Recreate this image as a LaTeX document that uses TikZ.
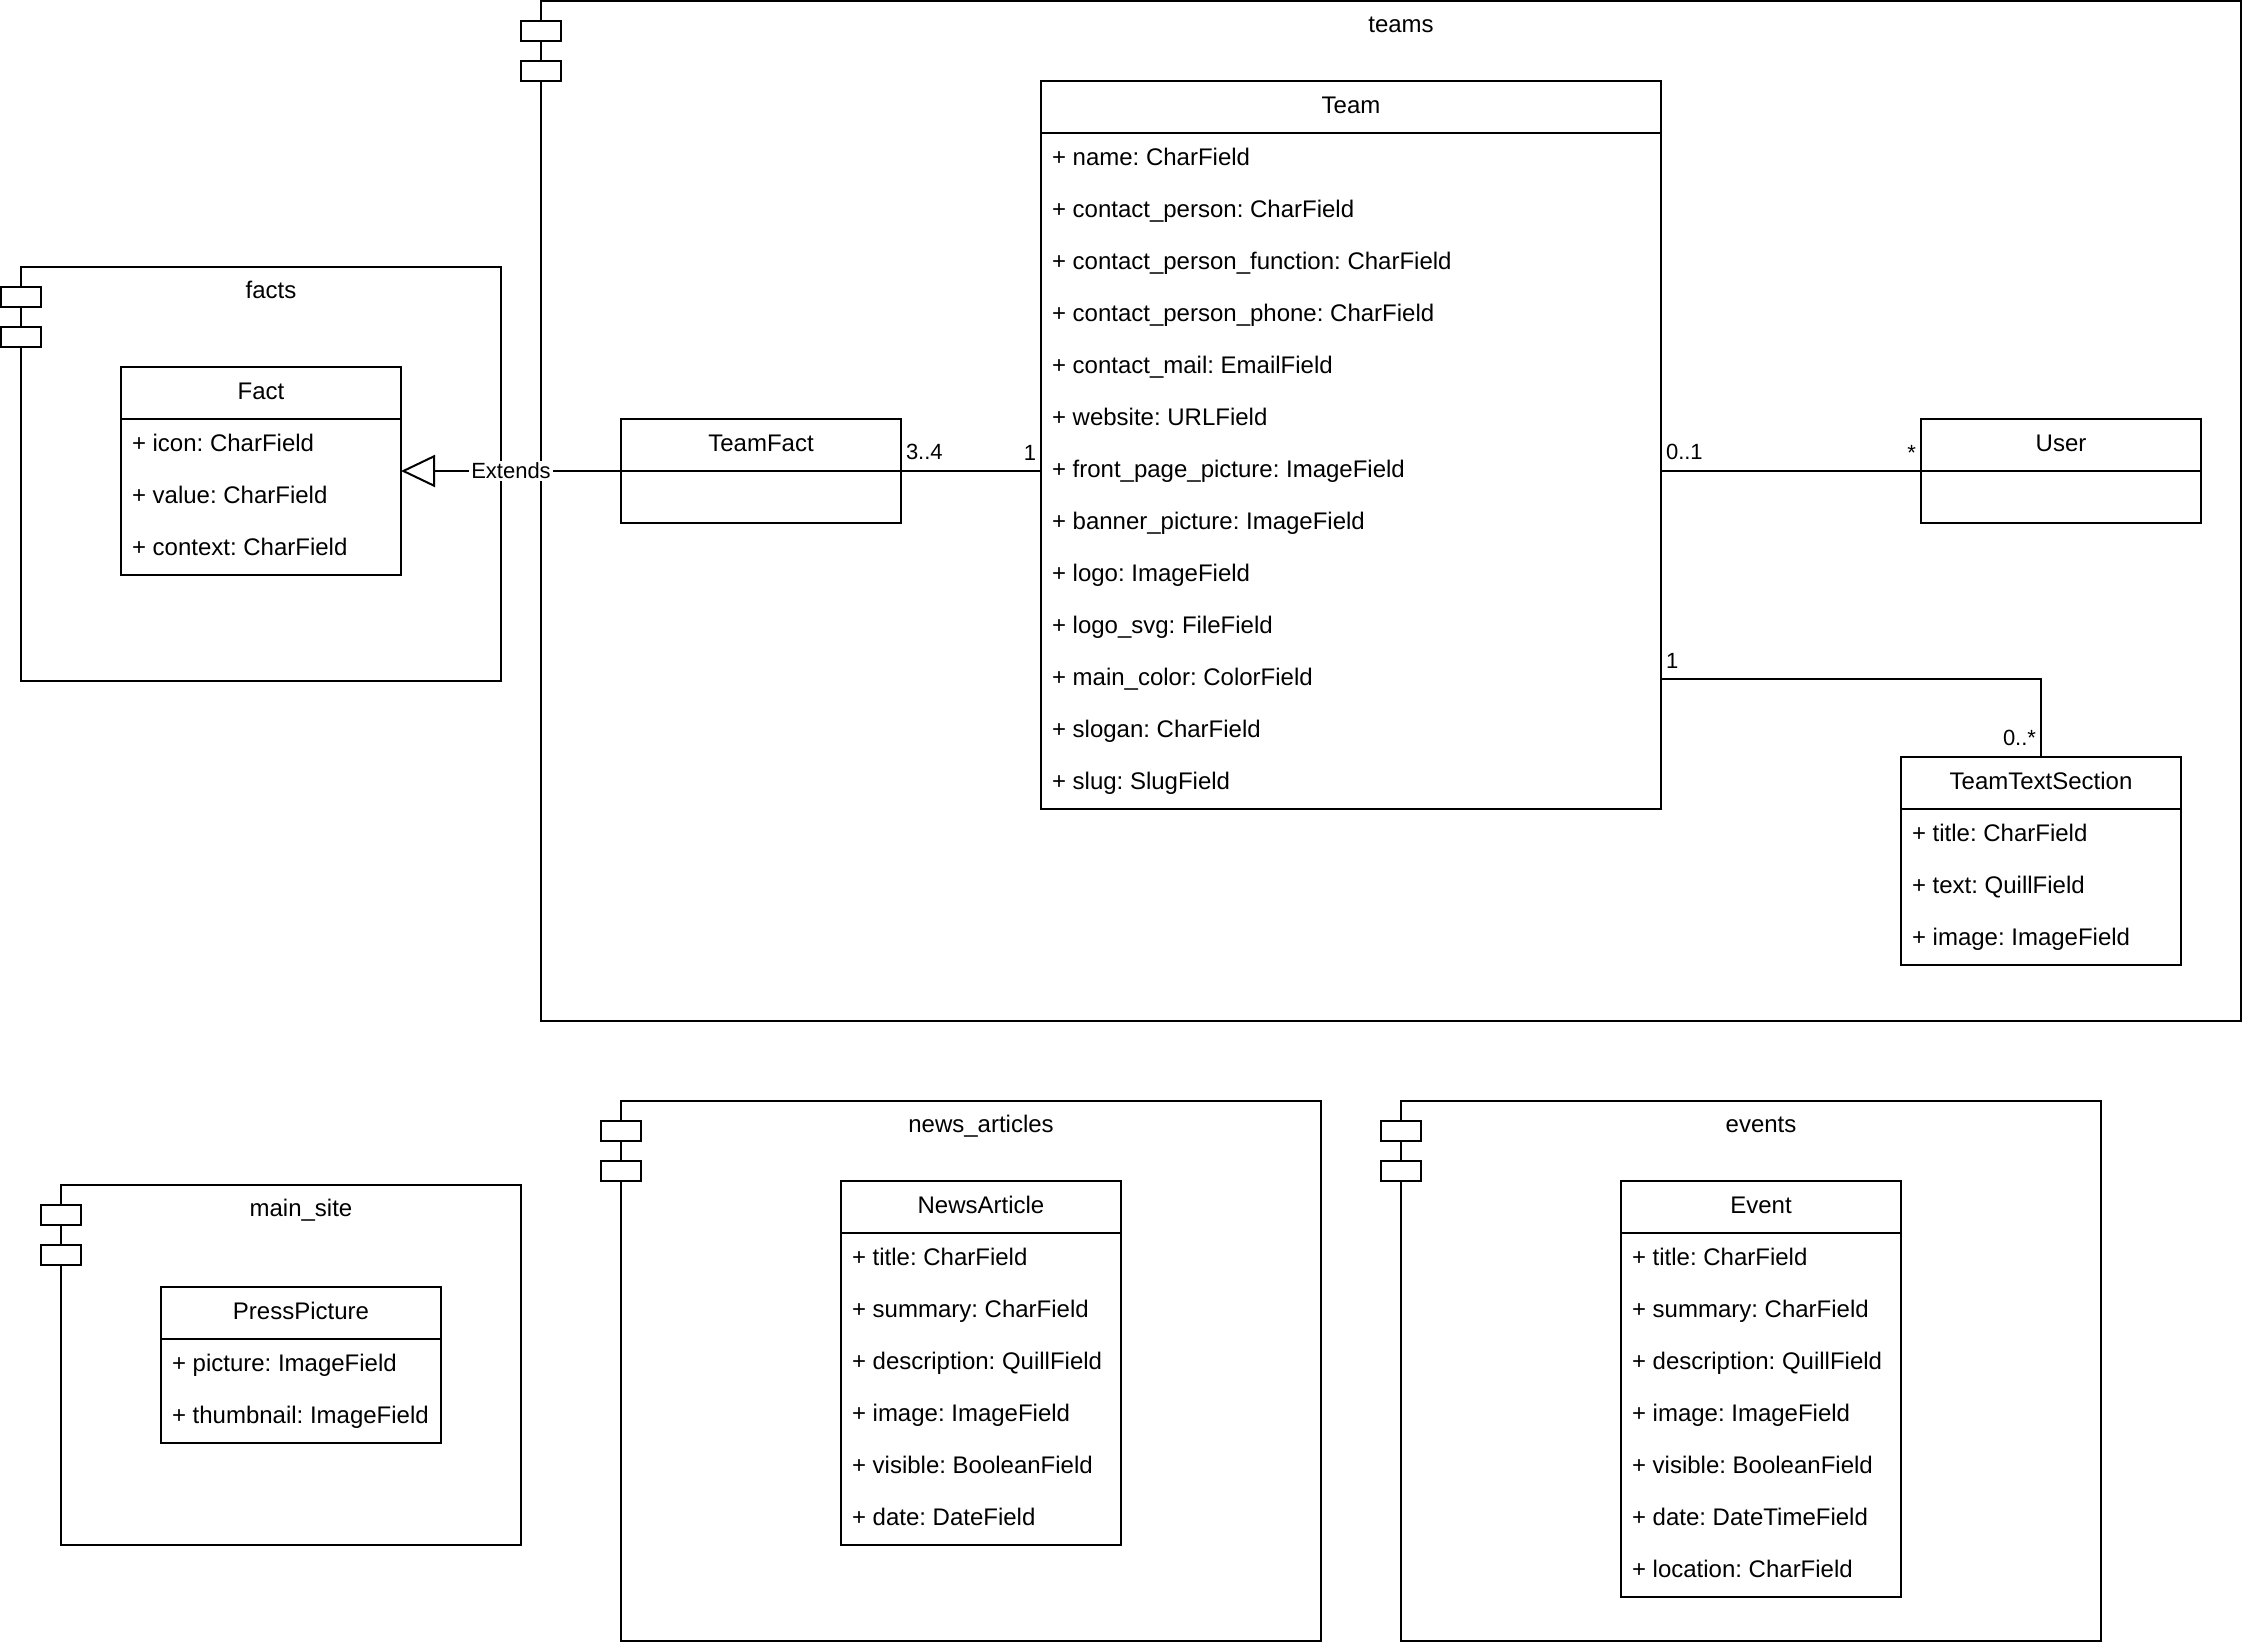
\documentclass[tikz,border=0pt]{standalone}
\usepackage{fontspec}
\setmainfont{Liberation Sans}
\frenchspacing
\usetikzlibrary{arrows.meta,positioning}

\begin{document}
\begin{tikzpicture}[x=1pt,y=-1pt,line width=1pt,
    box/.style={draw,rectangle,inner sep=0pt,outer sep=0pt,anchor=north west},
    icon/.style={draw,fill=white,rectangle,inner sep=0pt,outer sep=0pt,
        minimum width=20pt,minimum height=10pt,anchor=north west},
    pkgtitle/.style={font=\fontsize{12}{14}\selectfont,inner sep=0pt,
        text height=8.6pt,text depth=2.4pt},
    classhead/.style={box,font=\fontsize{12}{14}\selectfont,
        text height=8.9pt,text depth=2.1pt,minimum height=26pt},
    attr/.style={font=\fontsize{12}{14}\selectfont,anchor=west,inner sep=0pt,
        text height=8.6pt,text depth=2.4pt},
    mult/.style={font=\fontsize{11}{13}\selectfont,inner sep=0pt}]

    \useasboundingbox (-0.5,-0.5) rectangle (1120.5,820.5);

    % packages
    \node[box,minimum width=240pt,minimum height=207pt] (facts) at (10,133) {};
    \node[icon] (facts-i1) at (0,143) {};
    \node[icon] (facts-i2) at (0,163) {};
    \node[pkgtitle] (facts-title) at (135,145.5) {facts};

    \node[box,minimum width=850pt,minimum height=510pt] (teams) at (270,0) {};
    \node[icon] (teams-i1) at (260,10) {};
    \node[icon] (teams-i2) at (260,30) {};
    \node[pkgtitle] (teams-title) at (700,12.5) {teams};

    \node[box,minimum width=230pt,minimum height=180pt] (mainsite) at (30,592) {};
    \node[icon] (mainsite-i1) at (20,602) {};
    \node[icon] (mainsite-i2) at (20,622) {};
    \node[pkgtitle] (mainsite-title) at (150,604.5) {main\_site};

    \node[box,minimum width=350pt,minimum height=270pt] (news) at (310,550) {};
    \node[icon] (news-i1) at (300,560) {};
    \node[icon] (news-i2) at (300,580) {};
    \node[pkgtitle] (news-title) at (490,562.5) {news\_articles};

    \node[box,minimum width=350pt,minimum height=270pt] (events) at (700,550) {};
    \node[icon] (events-i1) at (690,560) {};
    \node[icon] (events-i2) at (690,580) {};
    \node[pkgtitle] (events-title) at (880,562.5) {events};

    % classes
    \node[box,minimum width=140pt,minimum height=104pt] (fact) at (60,183) {};
    \node[classhead,minimum width=140pt] (fact-head) at (60,183) {Fact};
    \foreach \f [count=\i] in {icon: CharField, value: CharField, context: CharField}
        \node[attr] (fact-\i) at (65,{196+26*\i}) {+ \f};

    \node[box,minimum width=310pt,minimum height=364pt] (team) at (520,40) {};
    \node[classhead,minimum width=310pt] (team-head) at (520,40) {Team};
    \foreach \f [count=\i] in {name: CharField, contact\_person: CharField,
        contact\_person\_function: CharField, contact\_person\_phone: CharField,
        contact\_mail: EmailField, website: URLField,
        front\_page\_picture: ImageField, banner\_picture: ImageField,
        logo: ImageField, logo\_svg: FileField, main\_color: ColorField,
        slogan: CharField, slug: SlugField}
        \node[attr] (team-\i) at (525,{53+26*\i}) {+ \f};

    \node[box,minimum width=140pt,minimum height=52pt] (teamfact) at (310,209) {};
    \node[classhead,minimum width=140pt] (teamfact-head) at (310,209) {TeamFact};

    \node[box,minimum width=140pt,minimum height=52pt] (user) at (960,209) {};
    \node[classhead,minimum width=140pt] (user-head) at (960,209) {User};

    \node[box,minimum width=140pt,minimum height=104pt] (teamtext) at (950,378) {};
    \node[classhead,minimum width=140pt] (teamtext-head) at (950,378) {TeamTextSection};
    \foreach \f [count=\i] in {title: CharField, text: QuillField, image: ImageField}
        \node[attr] (teamtext-\i) at (955,{391+26*\i}) {+ \f};

    \node[box,minimum width=140pt,minimum height=78pt] (press) at (80,643) {};
    \node[classhead,minimum width=140pt] (press-head) at (80,643) {PressPicture};
    \foreach \f [count=\i] in {picture: ImageField, thumbnail: ImageField}
        \node[attr] (press-\i) at (85,{656+26*\i}) {+ \f};

    \node[box,minimum width=140pt,minimum height=182pt] (article) at (420,590) {};
    \node[classhead,minimum width=140pt] (article-head) at (420,590) {NewsArticle};
    \foreach \f [count=\i] in {title: CharField, summary: CharField,
        description: QuillField, image: ImageField, visible: BooleanField,
        date: DateField}
        \node[attr] (article-\i) at (425,{603+26*\i}) {+ \f};

    \node[box,minimum width=140pt,minimum height=208pt] (event) at (810,590) {};
    \node[classhead,minimum width=140pt] (event-head) at (810,590) {Event};
    \foreach \f [count=\i] in {title: CharField, summary: CharField,
        description: QuillField, image: ImageField, visible: BooleanField,
        date: DateTimeField, location: CharField}
        \node[attr] (event-\i) at (815,{603+26*\i}) {+ \f};

    % relations
    \draw[-{Triangle[open,length=17pt,width=16pt]}] (teamfact.west)
        -- node[fill=white,inner sep=1pt,font=\fontsize{11}{13}\selectfont] (ext) {Extends} (fact.east);

    \draw (teamfact.east) node[mult,anchor=south west,xshift=2pt,yshift=5pt] (m-tf1) {3..4}
        -- (teamfact.east -| team.west) node[mult,anchor=south east,xshift=-2pt,yshift=5pt] (m-tf2) {1};

    \draw (team.east |- user.west) node[mult,anchor=south west,xshift=2pt,yshift=5pt] (m-tu1) {0..1}
        -- (user.west) node[mult,anchor=south east,xshift=-2pt,yshift=5pt] (m-tu2) {*};

    \draw (team-11 -| team.east) node[mult,anchor=south west,xshift=2pt,yshift=5pt] (m-tt1) {1}
        -- (team-11 -| teamtext.north) -- (teamtext.north)
        node[mult,anchor=south east,xshift=-2pt,yshift=5pt] (m-tt2) {0..*};

\end{tikzpicture}
\end{document}
